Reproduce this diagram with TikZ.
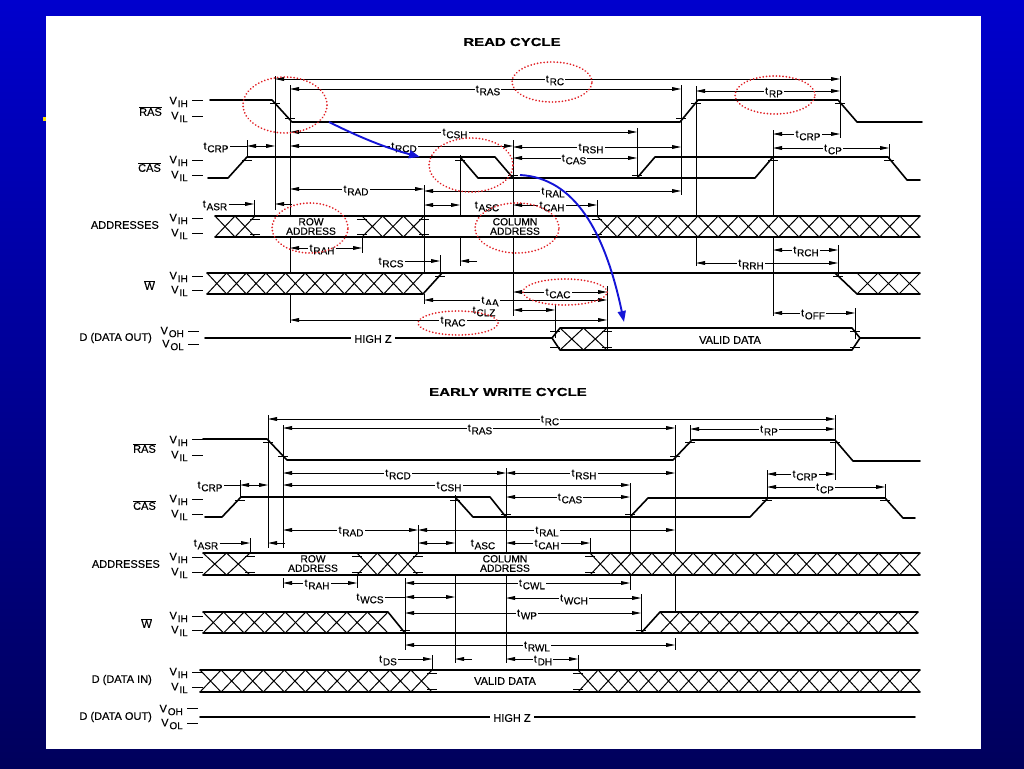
\documentclass[tikz,border=0pt]{standalone}
\usepackage{fontspec}
\setmainfont{Liberation Sans}[FakeBold=0.35]
\usetikzlibrary{arrows.meta}
\definecolor{dotred}{RGB}{225,30,35}
\definecolor{arrblue}{RGB}{20,20,215}
\definecolor{bgtop}{RGB}{0,0,205}
\definecolor{bgbot}{RGB}{0,0,92}
\newcommand\tl[1]{t\kern0.9pt\raisebox{-2.8pt}{\fontsize{10}{10}\selectfont #1}}
\newcommand\vsub[2]{#1\kern0.9pt\raisebox{-2.8pt}{\fontsize{10}{10}\selectfont #2}}
\newcommand\ovl[1]{$\overline{\hbox{#1}}$}
\tikzset{
 sig/.style={line width=1.6pt, line join=round, line cap=round},
 hx/.style={line width=1pt},
 refl/.style={line width=0.8pt},
 dim/.style={line width=0.8pt, {Triangle[length=9pt,width=3.8pt]}-{Triangle[length=9pt,width=3.8pt]}},
 dimr/.style={line width=0.8pt, -{Triangle[length=9pt,width=3.8pt]}},
 lbl/.style={fill=white, inner sep=1.2pt, font=\fontsize{10.5}{11}\selectfont, yshift=-1.5pt},
 txt/.style={inner sep=0pt, font=\fontsize{11}{12}\selectfont},
 boxt/.style={inner sep=0pt, font=\fontsize{10.3}{9.4}\selectfont, align=center},
 reddot/.style={draw=dotred, line width=1.9pt, dash pattern=on 0.01pt off 3.3pt, line cap=round},
 bluearr/.style={draw=arrblue, line width=1.9pt, -{Triangle[length=11pt,width=8pt]}, fill=none},
}
% x1 x2 top bot n
\newcommand\hatchx[5]{\pgfmathsetmacro\hatchw{(#2-#1)/#5}%
 \foreach \i in {1,...,#5}{\draw[hx] ({#1+(\i-1)*\hatchw},#3) -- ({#1+\i*\hatchw},#4) ({#1+(\i-1)*\hatchw},#4) -- ({#1+\i*\hatchw},#3);}}
% y x1 x2 label labelx
\newcommand\dimA[5]{\draw[dim] (#2,#1) -- (#3,#1); \node[lbl] (d-#4-#1) at (#5,#1) {\tl{#4}};}
\newcommand\dimL[5]{\draw[dim] (#2,#1) -- (#3,#1); \node[lbl] (l-#4-#1) at (#5,#1) {\tl{#4}};
 \coordinate (tmp) at (0,#1); \draw[refl] (l-#4-#1.east |- tmp) -- (#2,#1);}
\newcommand\dimO[5]{\node[lbl] (o-#4-#1) at (#5,#1) {\tl{#4}};
 \coordinate (tmp) at (0,#1); \draw[dimr] (o-#4-#1.east |- tmp) -- (#2,#1);
 \draw[dimr] ({#3+17},#1) -- (#3,#1);}
\newcommand\refv[3]{\draw[refl] (#1,#2) -- (#1,#3);}
\newcommand\tk[2]{\draw[refl] ({#1-5},#2) -- ({#1+5},#2);}
\newcommand\vlab[4]{% x y dashy text
 \node[txt,anchor=east] (v-#1-#2) at (#1,#2) {#4};
 \draw[refl] ({#1+4},#3) -- ({#1+15},#3);}
\begin{document}
\begin{tikzpicture}[x=1pt,y=-1pt]
\useasboundingbox (0,0) rectangle (1024,768);
\shade[top color=bgtop, bottom color=bgbot] (0,0) rectangle (1024,768);
\fill[yellow!85!orange] (43,117) rectangle (46,121);
\fill[white] (46,16) rectangle (981,749);

% ================= READ CYCLE =================
\node (title1) at (512,42) {\scalebox{1.3}[1]{\fontsize{11.5}{12}\selectfont\bfseries READ CYCLE}};

% signal names
\node[txt,anchor=east] (nras1) at (162,111) {\ovl{RAS}};
\vlab{188}{102}{100}{\vsub{V}{IH}}
\vlab{188}{117}{116}{\vsub{V}{IL}}
\node[txt,anchor=east] (ncas1) at (161,167) {\ovl{CAS}};
\vlab{188}{161}{160}{\vsub{V}{IH}}
\vlab{188}{176}{175}{\vsub{V}{IL}}
\node[txt,anchor=east] (naddr1) at (159,225) {ADDRESSES};
\vlab{188}{219}{218}{\vsub{V}{IH}}
\vlab{188}{234}{233}{\vsub{V}{IL}}
\node[txt,anchor=east] (nw1) at (155,285) {\ovl{W}};
\vlab{188}{277}{276}{\vsub{V}{IH}}
\vlab{188}{291}{290}{\vsub{V}{IL}}
\node[txt,anchor=east] (ndo1) at (152,338) {D (DATA OUT)};
\vlab{184}{332}{331}{\vsub{V}{OH}}
\vlab{184}{345}{344}{\vsub{V}{OL}}

% reference verticals
\refv{275}{76}{210}
\refv{290}{85}{216}\refv{290}{237}{273}\refv{290}{294}{323}
\refv{681}{85}{195}
\refv{696}{86}{216}\refv{696}{237}{266}
\refv{840}{76}{138}
\refv{838}{245}{276}
\refv{773}{130}{216}\refv{773}{237}{316}
\refv{889}{144}{160}
\refv{637}{128}{178}
\refv{513}{140}{216}\refv{513}{237}{316}
\refv{460}{155}{216}\refv{460}{237}{266}
\refv{424}{185}{272}\refv{424}{294}{304}
\refv{247}{140}{158}
\refv{254}{200}{216}
\refv{362}{237}{253}
\refv{440}{255}{273}
\refv{597}{200}{216}
\refv{607}{286}{350}
\refv{555}{304}{338}
\refv{855}{308}{339}

% timing dimensions
\dimA{79}{275}{840}{RC}{555}
\dimA{89}{290}{681}{RAS}{488}
\dimA{91}{696}{840}{RP}{774}
\dimA{132}{290}{637}{CSH}{455}
\dimA{146}{290}{513}{RCD}{404}
\dimA{147}{513}{681}{RSH}{591}
\dimA{158}{513}{637}{CAS}{574}
\dimL{146}{247}{275}{CRP}{216}
\dimA{134}{773}{840}{CRP}{808}
\dimA{148}{773}{889}{CP}{833}
\dimA{189}{290}{424}{RAD}{356}
\dimA{191}{424}{681}{RAL}{553}
\dimA{205}{424}{460}{ASC}{487}
\dimA{205}{513}{597}{CAH}{552}
\dimO{204}{254}{275}{ASR}{215}
\dimA{248}{290}{362}{RAH}{322}
\dimO{261}{440}{460}{RCS}{391}
\dimA{250}{773}{838}{RCH}{806}
\dimA{263}{696}{838}{RRH}{751}
\dimA{313}{773}{855}{OFF}{813}
\dimA{292}{513}{607}{CAC}{558}
\dimA{300}{424}{607}{AA}{490}
\dimA{310}{513}{555}{CLZ}{484}
\dimA{320}{290}{607}{RAC}{453}

% waveforms
\draw[sig] (210,100) -- (272,100) -- (292,122) -- (680,122) -- (698,100) -- (838,100) -- (857,122) -- (922,122);
\draw[sig] (208,178) -- (228,178) -- (247,157) -- (495,157) -- (513,178);
\draw[sig] (460,157) -- (478,178) -- (755,178) -- (773,157);
\draw[sig] (637,178) -- (655,157) -- (888,157) -- (907,180) -- (920,180);
% addresses
\draw[sig] (215,216) -- (920,216) (215,237) -- (920,237);
\hatchx{215}{255}{216}{237}{2}
\hatchx{362}{424}{216}{237}{3}
\hatchx{597}{920}{216}{237}{16}
\node[boxt] (row1) at (311,226.5) {ROW\\ADDRESS};
\node[boxt] (col1) at (515,226.5) {COLUMN\\ADDRESS};
% W
\draw[sig] (207,273) -- (920,273);
\draw[sig] (207,294) -- (423,294) -- (442,273);
\draw[sig] (835,273) -- (857,294) -- (920,294);
\hatchx{207}{423}{273}{294}{11}
\hatchx{857}{920}{273}{294}{3}
% D out
\draw[sig] (205,338) -- (552,338) -- (560,328) -- (852,328) -- (860,338) -- (920,338);
\draw[sig] (552,338) -- (560,350) -- (852,350) -- (860,338);
\hatchx{560}{607}{328}{350}{2}
\node[txt,fill=white,inner xsep=3pt] (hz1) at (373,339) {HIGH Z};
\node[txt] (vd1) at (730,340) {VALID DATA};

% ticks
\tk{275}{103}\tk{290}{118}\tk{681}{118}\tk{696}{103}\tk{840}{103}
\tk{247}{160}\tk{460}{160}\tk{513}{175}\tk{637}{175}\tk{773}{160}\tk{889}{160}
\tk{255}{219}\tk{255}{234}\tk{362}{219}\tk{362}{234}\tk{424}{219}\tk{424}{234}\tk{597}{219}\tk{597}{234}
\tk{440}{276}\tk{838}{276}
\tk{555}{331}\tk{555}{347}\tk{607}{331}\tk{607}{347}\tk{855}{331}\tk{855}{347}

% annotations
\draw[reddot] (285,105) ellipse [x radius=42pt, y radius=28pt];
\draw[reddot] (552,82) ellipse [x radius=40pt, y radius=20pt];
\draw[reddot] (775,95) ellipse [x radius=40pt, y radius=19pt];
\draw[reddot] (471,165) ellipse [x radius=42pt, y radius=27pt];
\draw[reddot] (310,228) ellipse [x radius=38pt, y radius=25pt];
\draw[reddot] (517,228) ellipse [x radius=42pt, y radius=25pt];
\draw[reddot] (565,292) ellipse [x radius=42pt, y radius=13pt];
\draw[reddot] (458,323) ellipse [x radius=40pt, y radius=12pt];
\coordinate (b1s) at (329,122); \coordinate (b1e) at (420,157);
\coordinate (b2s) at (520,175); \coordinate (b2e) at (624,322);
\draw[bluearr] (b1s) .. controls (365,140) and (390,149) .. (b1e);
\draw[bluearr] (b2s) .. controls (575,178) and (605,232) .. (b2e);

% ================= EARLY WRITE CYCLE =================
\node (title2) at (508,392) {\scalebox{1.31}[1]{\fontsize{11.5}{12}\selectfont\bfseries EARLY WRITE CYCLE}};

\node[txt,anchor=east] (nras2) at (156,448) {\ovl{RAS}};
\vlab{188}{441}{439}{\vsub{V}{IH}}
\vlab{188}{456}{455}{\vsub{V}{IL}}
\node[txt,anchor=east] (ncas2) at (156,505) {\ovl{CAS}};
\vlab{188}{500}{499}{\vsub{V}{IH}}
\vlab{188}{515}{514}{\vsub{V}{IL}}
\node[txt,anchor=east] (naddr2) at (160,564) {ADDRESSES};
\vlab{188}{558}{557}{\vsub{V}{IH}}
\vlab{188}{573}{572}{\vsub{V}{IL}}
\node[txt,anchor=east] (nw2) at (152,623) {\ovl{W}};
\vlab{188}{617}{616}{\vsub{V}{IH}}
\vlab{188}{631}{630}{\vsub{V}{IL}}
\node[txt,anchor=east] (ndi2) at (152,680) {D (DATA IN)};
\vlab{188}{673}{672}{\vsub{V}{IH}}
\vlab{188}{688}{687}{\vsub{V}{IL}}
\node[txt,anchor=east] (ndo2) at (152,717) {D (DATA OUT)};
\vlab{183}{710}{708}{\vsub{V}{OH}}
\vlab{183}{724}{723}{\vsub{V}{OL}}

% verticals
\refv{268}{415}{548}
\refv{283}{425}{548}\refv{283}{578}{588}
\refv{675}{425}{553}\refv{675}{575}{612}\refv{675}{638}{650}
\refv{690}{425}{440}
\refv{835}{415}{480}
\refv{767}{470}{498}
\refv{885}{484}{498}
\refv{630}{483}{553}\refv{630}{575}{590}
\refv{506}{468}{553}\refv{506}{575}{663}
\refv{455}{495}{553}\refv{455}{575}{663}
\refv{418}{525}{553}
\refv{240}{480}{497}
\refv{250}{538}{553}
\refv{357}{575}{588}
\refv{590}{538}{553}
\refv{405}{578}{650}
\refv{641}{594}{633}
\refv{432}{655}{670}
\refv{578}{655}{670}

% dimensions
\dimA{419}{268}{835}{RC}{550}
\dimA{428}{283}{675}{RAS}{480}
\dimA{429}{690}{835}{RP}{769}
\dimA{473}{283}{506}{RCD}{398}
\dimA{473}{506}{675}{RSH}{584}
\dimA{485}{283}{630}{CSH}{449}
\dimA{497}{506}{630}{CAS}{570}
\dimL{485}{240}{268}{CRP}{210}
\dimA{474}{767}{835}{CRP}{805}
\dimA{487}{767}{885}{CP}{825}
\dimA{530}{283}{418}{RAD}{351}
\dimA{530}{418}{675}{RAL}{547}
\dimO{543}{250}{268}{ASR}{206}
\dimA{543}{418}{455}{ASC}{483}
\dimA{543}{506}{590}{CAH}{547}
\dimA{583}{283}{357}{RAH}{317}
\dimA{583}{405}{630}{CWL}{532}
\dimL{597}{405}{455}{WCS}{370}
\dimA{598}{506}{641}{WCH}{574}
\dimA{613}{405}{641}{WP}{527}
\dimA{645}{405}{675}{RWL}{537}
\dimO{659}{432}{455}{DS}{388}
\dimA{659}{506}{578}{DH}{543}

% waveforms
\draw[sig] (203,439) -- (267,439) -- (287,460) -- (673,460) -- (692,440) -- (835,440) -- (853,461) -- (920,461);
\draw[sig] (205,517) -- (222,517) -- (241,497) -- (490,497) -- (506,517);
\draw[sig] (455,497) -- (473,517) -- (750,517) -- (768,498);
\draw[sig] (630,517) -- (648,498) -- (885,498) -- (903,518) -- (915,518);
% addresses
\draw[sig] (203,553) -- (920,553) (203,575) -- (920,575);
\hatchx{203}{250}{553}{575}{2}
\hatchx{357}{418}{553}{575}{3}
\hatchx{590}{920}{553}{575}{16}
\node[boxt] (row2) at (313,563.5) {ROW\\ADDRESS};
\node[boxt] (col2) at (505,563.5) {COLUMN\\ADDRESS};
% W
\draw[sig] (203,612) -- (388,612) -- (405,633);
\draw[sig] (203,633) -- (918,633);
\draw[sig] (641,633) -- (660,612) -- (918,612);
\hatchx{203}{388}{612}{633}{9}
\hatchx{660}{918}{612}{633}{13}
% D in
\draw[sig] (200,670) -- (920,670) (200,692) -- (920,692);
\hatchx{200}{432}{670}{692}{11}
\hatchx{578}{920}{670}{692}{17}
\node[txt] (vd2) at (505,681) {VALID DATA};
% D out
\draw[sig] (200,717) -- (915,717);
\node[txt,fill=white,inner xsep=3pt] (hz2) at (512,718) {HIGH Z};

% ticks
\tk{268}{442}\tk{283}{456}\tk{675}{456}\tk{690}{442}\tk{835}{442}
\tk{240}{500}\tk{455}{500}\tk{506}{514}\tk{630}{514}\tk{767}{500}\tk{885}{500}
\tk{250}{556}\tk{250}{572}\tk{357}{556}\tk{357}{572}\tk{418}{556}\tk{418}{572}\tk{590}{556}\tk{590}{572}
\tk{405}{630}\tk{641}{630}
\tk{432}{673}\tk{432}{689}\tk{578}{673}\tk{578}{689}
\end{tikzpicture}
\end{document}
